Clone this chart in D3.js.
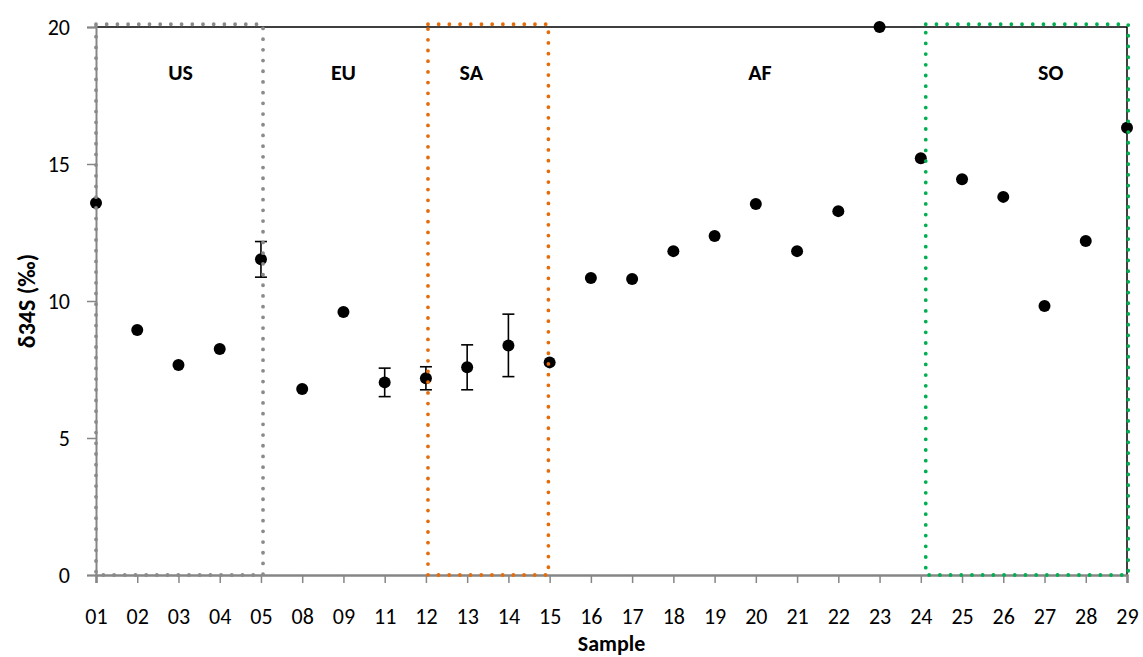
<!DOCTYPE html>
<html>
<head>
<meta charset="utf-8">
<script src="https://cdn.jsdelivr.net/npm/d3@7/dist/d3.min.js"></script>
<style>
  html, body { margin: 0; padding: 0; background: #fff; }
  svg { display: block; font-family: Carlito, Lato, "Open Sans", sans-serif; }
</style>
</head>
<body>
<svg id="chart" width="1143" height="657"></svg>
<script>
// Sample identifiers along the x axis
const samples = ["01","02","03","04","05","08","09","11","12","13","14","15","16","17","18","19","20","21","22","23","24","25","26","27","28","29"];
// δ34S values (‰) per sample
const d34S = [13.58, 8.94, 7.66, 8.25, 11.52, 6.79, 9.60, 7.03, 7.18, 7.58, 8.38, 7.76, 10.84, 10.80, 11.82, 12.37, 13.54, 11.82, 13.28, 20.0, 15.21, 14.44, 13.80, 9.82, 12.19, 16.32];
// Analytical uncertainty (±‰); 0 = no error bar
const d34Serr = [0, 0, 0, 0, 0.65, 0, 0, 0.52, 0.42, 0.82, 1.14, 0, 0, 0, 0, 0, 0, 0, 0, 0, 0, 0, 0, 0, 0, 0];
// Y axis tick values
const yTicks = [0, 5, 10, 15, 20];

// Regional groups: label, label position (category index), and framed extent (index range)
const regionNames = ["US", "EU", "SA", "AF", "SO"];
const regionLabelAt = [2.05, 6.0, 9.1, 16.1, 23.15];
const regionBoxFrom = [0.0, null, 8.05, null, 20.12];
const regionBoxTo = [4.05, null, 10.97, null, 25.03];
const regionColors = ["#8a8a8a", null, "#e46c0a", null, "#00b050"];

const FONT = "Carlito, Lato, 'Open Sans', sans-serif";
const svg = d3.select("#chart");
const margin = { left: 96, right: 16, top: 27, bottom: 82 };
const W = 1143, H = 657;

const x = d3.scaleLinear().domain([0, samples.length - 1]).range([margin.left, W - margin.right]);
const y = d3.scaleLinear().domain([0, 20]).range([H - margin.bottom, margin.top]);

const x0 = x(0), x1 = x(samples.length - 1), y0 = y(0), y1 = y(20);

// Top and right frame
svg.append("path")
  .attr("d", `M${x0},${y1}H${x1}V${y0}`)
  .attr("fill", "none").attr("stroke", "#000").attr("stroke-width", 1.5);

// Y axis
const yAxis = svg.append("g").attr("transform", `translate(${x0},0)`)
  .call(d3.axisLeft(y).tickValues(yTicks).tickSize(9).tickPadding(17));
yAxis.attr("font-size", null).attr("font-family", null);
yAxis.select(".domain").attr("stroke", "#868686").attr("stroke-width", 2);
yAxis.selectAll(".tick line").attr("stroke", "#868686").attr("stroke-width", 1.5);
yAxis.selectAll(".tick text").attr("fill", "#000")
  .style("font-size", "22px").style("font-family", FONT);

// X axis
const xAxis = svg.append("g").attr("transform", `translate(0,${y0})`)
  .call(d3.axisBottom(x).tickValues(d3.range(samples.length)).tickFormat(i => samples[i]).tickSize(8).tickPadding(25));
xAxis.attr("font-size", null).attr("font-family", null);
xAxis.select(".domain").attr("stroke", "#868686").attr("stroke-width", 2.5);
xAxis.selectAll(".tick line").attr("stroke", "#868686").attr("stroke-width", 1.5);
xAxis.selectAll(".tick text").attr("fill", "#000")
  .style("font-size", "22px").style("font-family", FONT);

// Axis titles
svg.append("text")
  .attr("x", (x0 + x1) / 2).attr("y", 651)
  .attr("text-anchor", "middle").style("font-size", "22px").attr("font-weight", "bold")
  .text("Sample");
svg.append("text")
  .attr("transform", `translate(35,${(y0 + y1) / 2}) rotate(-90)`)
  .attr("text-anchor", "middle").style("font-size", "24px").attr("font-weight", "bold")
  .text("δ34S (‰)");

// Error bars
const errIdx = d3.range(samples.length).filter(i => d34Serr[i] > 0);
const eb = svg.append("g").attr("stroke", "#000").attr("stroke-width", 1.6);
errIdx.forEach(i => {
  const cx = x(i), ya = y(d34S[i] + d34Serr[i]), yb = y(d34S[i] - d34Serr[i]);
  eb.append("line").attr("x1", cx).attr("x2", cx).attr("y1", ya).attr("y2", yb);
  eb.append("line").attr("x1", cx - 6).attr("x2", cx + 6).attr("y1", ya).attr("y2", ya);
  eb.append("line").attr("x1", cx - 6).attr("x2", cx + 6).attr("y1", yb).attr("y2", yb);
});

// Data points
svg.append("g").selectAll("circle")
  .data(d34S)
  .join("circle")
  .attr("cx", (d, i) => x(i))
  .attr("cy", d => y(d))
  .attr("r", 6)
  .attr("fill", "#000");

// Dotted region frames
const boxes = svg.append("g");
regionNames.forEach((name, k) => {
  if (regionBoxFrom[k] === null) return;
  const bx0 = x(regionBoxFrom[k]), bx1 = x(regionBoxTo[k]);
  const by0 = y(0), by1 = y(20.1);
  boxes.append("rect")
    .attr("x", bx0).attr("y", by1)
    .attr("width", bx1 - bx0).attr("height", by0 - by1)
    .attr("fill", "none")
    .attr("stroke", regionColors[k])
    .attr("stroke-width", 3.8)
    .attr("stroke-linecap", "round")
    .attr("stroke-dasharray", "0 10.7");
});

// Region labels
svg.append("g").selectAll("text")
  .data(regionNames)
  .join("text")
  .attr("x", (d, k) => x(regionLabelAt[k]))
  .attr("y", y(18.35) + 8)
  .attr("text-anchor", "middle")
  .style("font-size", "22px")
  .attr("font-weight", "bold")
  .text(d => d);
</script>
</body>
</html>
